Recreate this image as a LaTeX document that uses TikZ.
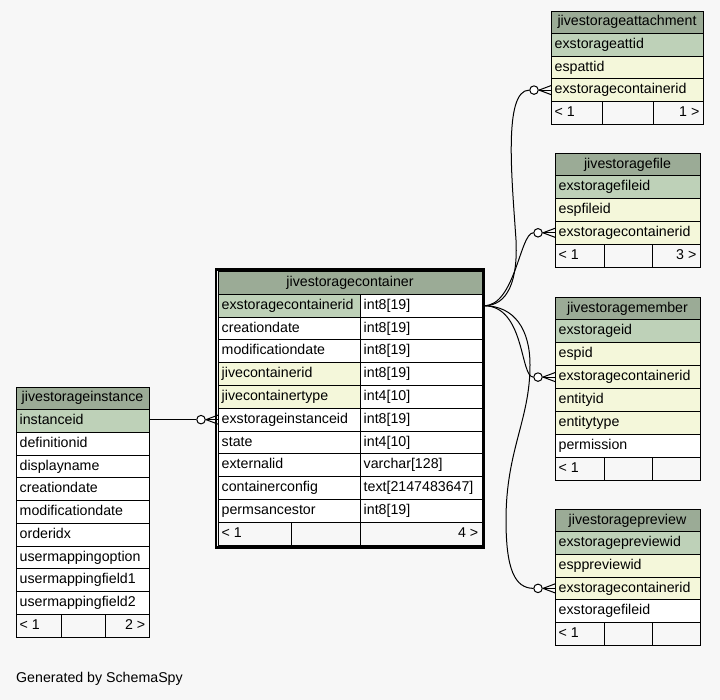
\documentclass[tikz,border=0pt]{standalone}
\usepackage{fontspec}
\setmainfont{Liberation Sans}
\definecolor{bg}{HTML}{F7F7F7}
\definecolor{hdr}{HTML}{9BAB96}
\definecolor{pk}{HTML}{BED1B8}
\definecolor{ix}{HTML}{F4F7DA}
\definecolor{ft}{HTML}{F7F7F7}
\tikzset{
  cellbox/.style={draw=black, line width=0.9pt, inner sep=0pt, outer sep=0pt},
  celltext/.style={inner sep=0pt, font=\fontsize{14.2}{17}\selectfont, text height=10.2pt, text depth=2.9pt},
  conn/.style={draw=black, line width=1pt},
  odot/.style={circle, draw=black, line width=1pt, fill=white, minimum size=8.5pt, inner sep=0pt},
  frame/.style={draw=black, line width=2.6pt},
}
% header: prefix, x1, x2, y1, y2, text
\newcommand\dbhead[6]{%
  \node[cellbox, fill=hdr, minimum width={(#3-#2)*1pt}, minimum height={(#5-#4)*1pt}] (#1-h) at ({(#2+#3)/2},{(#4+#5)/2}) {};
  \node[celltext] (#1-h-t) at (#1-h.center) {#6};}
% rows: prefix, x1, x2, ystart, pitch, list fill/text
\newcommand\dbrows[6]{%
  \foreach [count=\ri] \rfill/\rtext in {#6} {
    \pgfmathsetmacro\ya{#4+(\ri-1)*#5}
    \pgfmathsetmacro\yb{#4+\ri*#5}
    \node[cellbox, fill=\rfill, minimum width={(#3-#2)*1pt}, minimum height={#5*1pt}] (#1-\ri) at ({(#2+#3)/2},{(\ya+\yb)/2}) {};
    \node[celltext, anchor=west] (#1-\ri-t) at ([xshift=3.5pt]#1-\ri.west) {\rtext};
  }}
% footer: prefix, x1, xa, xb, x2, y1, y2, left, right
\newcommand\dbfoot[9]{%
  \node[cellbox, fill=ft, minimum width={(#3-#2)*1pt}, minimum height={(#7-#6)*1pt}] (#1-fa) at ({(#2+#3)/2},{(#6+#7)/2}) {};
  \node[cellbox, fill=ft, minimum width={(#4-#3)*1pt}, minimum height={(#7-#6)*1pt}] (#1-fb) at ({(#3+#4)/2},{(#6+#7)/2}) {};
  \node[cellbox, fill=ft, minimum width={(#5-#4)*1pt}, minimum height={(#7-#6)*1pt}] (#1-fc) at ({(#4+#5)/2},{(#6+#7)/2}) {};
  \node[celltext, anchor=west] (#1-fl) at ([xshift=3.5pt]#1-fa.west) {#8};
  \node[celltext, anchor=east] (#1-fr) at ([xshift=-3.5pt]#1-fc.east) {#9};}
% crow + odot at the west side of a row cell: target, name of entry coordinate
\newcommand\crowodot[2]{%
  \node[odot] (#2-o) at ([xshift=-17pt]#1.west) {};
  \coordinate (#2) at (#2-o.west);
  \draw[conn] (#2-o.east) -- (#1.west);
  \draw[conn] ([xshift=-12pt]#1.west) -- ([yshift=4.5pt]#1.west);
  \draw[conn] ([xshift=-12pt]#1.west) -- ([yshift=-4.5pt]#1.west);}
\begin{document}
\begin{tikzpicture}[x=1pt,y=-1pt]
\fill[bg] (0,0) rectangle (720,700);
\useasboundingbox (0,0) rectangle (720,700);

% jivestoragecontainer
\dbhead{c}{218}{482}{271.5}{294.3}{jivestoragecontainer}
\dbrows{c}{218}{360}{294.3}{22.79}{pk/exstoragecontainerid, white/creationdate, white/modificationdate, ix/jivecontainerid, ix/jivecontainertype, white/exstorageinstanceid, white/state, white/externalid, white/containerconfig, white/permsancestor}
\dbrows{ct}{360}{482}{294.3}{22.79}{white/int8[19], white/int8[19], white/int8[19], white/int8[19], white/int4[10], white/int8[19], white/int4[10], white/varchar[128], white/text[2147483647], white/int8[19]}
\dbfoot{c}{218}{291}{360}{482}{522.2}{545}{< 1}{4 >}
\draw[frame] (215.8,269.3) rectangle (483.2,547.2);

% jivestorageinstance
\dbhead{i}{16}{149}{387}{409.7}{jivestorageinstance}
\dbrows{i}{16}{149}{409.7}{22.73}{pk/instanceid, white/definitionid, white/displayname, white/creationdate, white/modificationdate, white/orderidx, white/usermappingoption, white/usermappingfield1, white/usermappingfield2}
\dbfoot{i}{16}{61}{105}{149}{614.3}{637}{< 1}{2 >}

% jivestorageattachment
\dbhead{a}{551}{703}{11}{33.6}{jivestorageattachment}
\dbrows{a}{551}{703}{33.6}{22.6}{pk/exstorageattid, ix/espattid, ix/exstoragecontainerid}
\dbfoot{a}{551}{602}{653}{703}{101.4}{124}{< 1}{1 >}

% jivestoragefile
\dbhead{f}{555}{700}{153}{175.8}{jivestoragefile}
\dbrows{f}{555}{700}{175.8}{22.8}{pk/exstoragefileid, ix/espfileid, ix/exstoragecontainerid}
\dbfoot{f}{555}{604}{652}{700}{244.2}{267}{< 1}{3 >}

% jivestoragemember
\dbhead{m}{555}{700}{297}{319.9}{jivestoragemember}
\dbrows{m}{555}{700}{319.9}{22.875}{pk/exstorageid, ix/espid, ix/exstoragecontainerid, ix/entityid, ix/entitytype, white/permission}
\dbfoot{m}{555}{604}{652}{700}{457.1}{480}{< 1}{}

% jivestoragepreview
\dbhead{p}{555}{700}{509}{531.7}{jivestoragepreview}
\dbrows{p}{555}{700}{531.7}{22.67}{pk/exstoragepreviewid, ix/esppreviewid, ix/exstoragecontainerid, white/exstoragefileid}
\dbfoot{p}{555}{604}{652}{700}{622.3}{645}{< 1}{}

% connectors
\coordinate (cport) at ([xshift=2pt]ct-1.east);
\crowodot{c-6}{cin}
\draw[conn] (i-1.east |- cin) -- (cin);
\crowodot{a-3}{ain}
\draw[conn] (cport) .. controls (508,306) and (518,280) .. (516,240) .. controls (512,180) and (503,90) .. (ain);
\crowodot{f-3}{fin}
\draw[conn] (cport) .. controls (515,306) and (520,233) .. (fin);
\crowodot{m-3}{min}
\draw[conn] (cport) .. controls (525,306) and (520,377) .. (min);
\crowodot{p-3}{pin}
\draw[conn] (cport) .. controls (515,306) and (530,330) .. (530,365) .. controls (530,420) and (506,450) .. (506,520) .. controls (506,570) and (515,588) .. (pin);

\node[celltext, anchor=west] (gen) at (16,679) {Generated by SchemaSpy};
\end{tikzpicture}
\end{document}
